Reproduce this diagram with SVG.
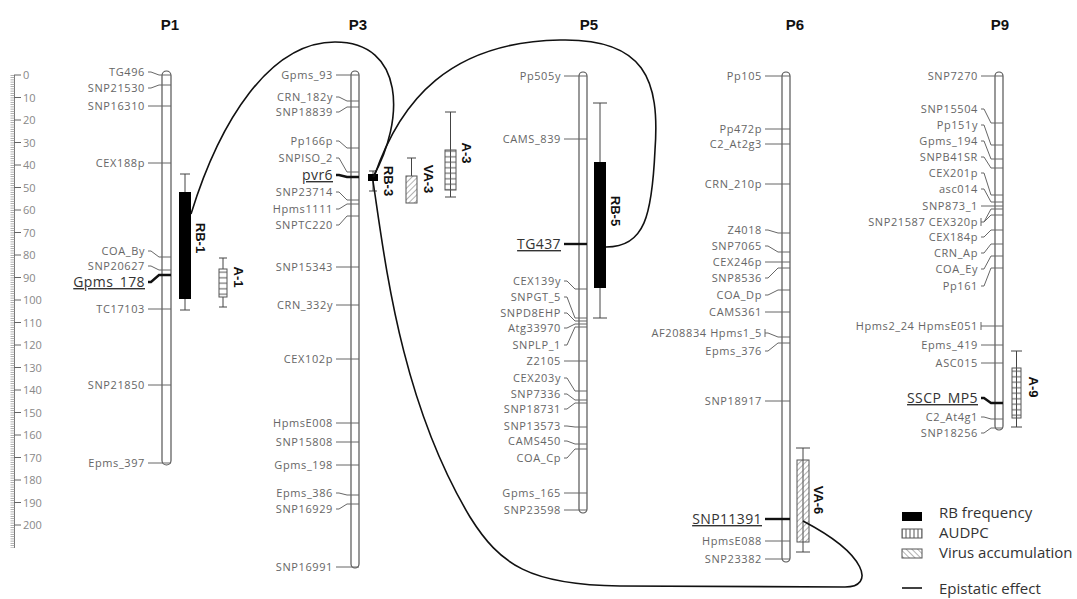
<svg xmlns="http://www.w3.org/2000/svg" width="1077" height="599" viewBox="0 0 1077 599">
<style>
.chr{fill:#fff;stroke:#555;stroke-width:1.2}
.tk{fill:none;stroke:#666;stroke-width:1}
.mk{font-family:'Open Sans',sans-serif;font-size:11px;fill:#666;letter-spacing:0.6px;text-anchor:end}
.key{font-family:'Open Sans',sans-serif;font-size:14px;fill:#333;text-decoration:underline;text-anchor:end;letter-spacing:0.4px}
.ktk{stroke:#111;stroke-width:2.4;fill:none}
.ttl{font-family:'Liberation Sans',Arial,sans-serif;font-weight:bold;font-size:15px;text-anchor:middle;fill:#111}
.ql{font-family:'Liberation Sans',Arial,sans-serif;font-weight:bold;font-size:13px;text-anchor:middle;dominant-baseline:central;fill:#111}
.wh{stroke:#444;stroke-width:1;fill:none}
.epi{stroke:#111;stroke-width:1.6;fill:none}
.rl{font-family:'Open Sans',sans-serif;font-size:11px;fill:#888}
.lg{font-family:'Open Sans',sans-serif;font-size:15px;fill:#333}
</style>
<defs>
<pattern id="hstr" width="10" height="5.5" patternUnits="userSpaceOnUse"><line x1="0" y1="2.75" x2="10" y2="2.75" stroke="#555" stroke-width="1"/></pattern>
<pattern id="vstr" width="4" height="10" patternUnits="userSpaceOnUse"><line x1="2" y1="0" x2="2" y2="10" stroke="#555" stroke-width="1"/></pattern>
<pattern id="hatch" width="4" height="4" patternUnits="userSpaceOnUse" patternTransform="rotate(45)"><line x1="0" y1="0" x2="0" y2="4" stroke="#666" stroke-width="1"/></pattern>
<pattern id="hatch2" width="4" height="4" patternUnits="userSpaceOnUse" patternTransform="rotate(-45)"><line x1="0" y1="0" x2="0" y2="4" stroke="#666" stroke-width="1"/></pattern>
</defs>
<rect width="1077" height="599" fill="#fff"/>

<g id="ruler">
<line x1="14.5" y1="75" x2="14.5" y2="548" stroke="#777" stroke-width="1"/>
<line x1="12.5" y1="75" x2="12.5" y2="548" stroke="#999" stroke-width="4" stroke-dasharray="0.8 1.45"/>
<path class="tk" stroke="#888" d="M14,75H21M14,97.5H21M14,120H21M14,142.5H21M14,165H21M14,187.5H21M14,210H21M14,232.5H21M14,255H21M14,277.5H21M14,300H21M14,322.5H21M14,345H21M14,367.5H21M14,390H21M14,412.5H21M14,435H21M14,457.5H21M14,480H21M14,502.5H21M14,525H21"/>
<text class="rl" x="23" y="79">0</text><text class="rl" x="23" y="101.5">10</text><text class="rl" x="23" y="124">20</text><text class="rl" x="23" y="146.5">30</text><text class="rl" x="23" y="169">40</text><text class="rl" x="23" y="191.5">50</text><text class="rl" x="23" y="214">60</text><text class="rl" x="23" y="236.5">70</text><text class="rl" x="23" y="259">80</text><text class="rl" x="23" y="281.5">90</text><text class="rl" x="23" y="304">100</text><text class="rl" x="23" y="326.5">110</text><text class="rl" x="23" y="349">120</text><text class="rl" x="23" y="371.5">130</text><text class="rl" x="23" y="394">140</text><text class="rl" x="23" y="416.5">150</text><text class="rl" x="23" y="439">160</text><text class="rl" x="23" y="461.5">170</text><text class="rl" x="23" y="484">180</text><text class="rl" x="23" y="506.5">190</text><text class="rl" x="23" y="529">200</text>
</g>

<g id="P1">
<text class="ttl" x="170" y="30">P1</text>
<rect class="chr" x="162" y="71" width="9" height="394" rx="4.5"/>
<path class="tk" d="M148,72H151L159,75H171M148,88H151L159,85H171M148,106H171M148,163H171M148,251H151L159,257H171M148,266H151L159,270H171M148,309H171M148,385H171M148,463H171"/>
<path class="ktk" d="M148,282H151L159,275H171"/>
<text class="mk" x="145" y="76">TG496</text>
<text class="mk" x="145" y="92">SNP21530</text>
<text class="mk" x="145" y="110">SNP16310</text>
<text class="mk" x="145" y="167">CEX188p</text>
<text class="mk" x="145" y="255">COA_By</text>
<text class="mk" x="145" y="270">SNP20627</text>
<text class="key" x="145" y="287">Gpms_178</text>
<text class="mk" x="145" y="313">TC17103</text>
<text class="mk" x="145" y="389">SNP21850</text>
<text class="mk" x="145" y="467">Epms_397</text>
<path class="wh" d="M185,174V310M180,174H190M180,310H190"/>
<rect x="179" y="192" width="12" height="107" fill="#000"/>
<text class="ql" transform="translate(200,238) rotate(90)">RB-1</text>
<path class="wh" d="M223,258V307M219,258H227M219,307H227"/>
<rect x="219" y="269" width="8" height="28" fill="#fff"/>
<rect x="219" y="269" width="8" height="28" fill="url(#hstr)" stroke="#555"/>
<text class="ql" transform="translate(238,277) rotate(90)">A-1</text>
</g>

<g id="P3">
<text class="ttl" x="358" y="30">P3</text>
<rect class="chr" x="351" y="71" width="8" height="497" rx="4"/>
<path class="tk" d="M336,75H359M336,97H339L347,101H359M336,112H339L347,107H359M336,141H339L347,148H359M336,158H339L347,172H359M336,192H339L347,200H359M336,209H339L347,204H359M336,225H339L347,216H359M336,267H359M336,305H359M336,359H359M336,423H359M336,442H359M336,465H359M336,493H339L347,495H359M336,509H339L347,504H359M336,567H359"/>
<path class="ktk" d="M336,175H339L347,177H359"/>
<text class="mk" x="333" y="79">Gpms_93</text>
<text class="mk" x="333" y="101">CRN_182y</text>
<text class="mk" x="333" y="116">SNP18839</text>
<text class="mk" x="333" y="145">Pp166p</text>
<text class="mk" x="333" y="162">SNPISO_2</text>
<text class="key" x="333" y="180">pvr6</text>
<text class="mk" x="333" y="196">SNP23714</text>
<text class="mk" x="333" y="213">Hpms1111</text>
<text class="mk" x="333" y="229">SNPTC220</text>
<text class="mk" x="333" y="271">SNP15343</text>
<text class="mk" x="333" y="309">CRN_332y</text>
<text class="mk" x="333" y="363">CEX102p</text>
<text class="mk" x="333" y="427">HpmsE008</text>
<text class="mk" x="333" y="446">SNP15808</text>
<text class="mk" x="333" y="469">Gpms_198</text>
<text class="mk" x="333" y="497">Epms_386</text>
<text class="mk" x="333" y="513">SNP16929</text>
<text class="mk" x="333" y="571">SNP16991</text>
<path class="wh" d="M373,171V191M369,171H377M369,191H377"/>
<rect x="368" y="174" width="10" height="7" fill="#000"/>
<text class="ql" transform="translate(388,181) rotate(90)">RB-3</text>
<path class="wh" d="M411.5,158V176M407,158H416"/>
<rect x="406" y="176" width="11" height="27" fill="url(#hatch)" stroke="#555"/>
<text class="ql" transform="translate(428,179) rotate(90)">VA-3</text>
<path class="wh" d="M450.5,112V197M445,112H456M445,197H456"/>
<rect x="445" y="150" width="11" height="40" fill="url(#hstr)" stroke="#555"/>
<text class="ql" transform="translate(466,153) rotate(90)">A-3</text>
</g>

<g id="P5">
<text class="ttl" x="589" y="30">P5</text>
<rect class="chr" x="579" y="72" width="8" height="441" rx="4"/>
<path class="tk" d="M564,76H587M564,139H587M564,281H567L575,289H587M564,297H567L575,318H587M564,313H567L575,321H587M564,328H567L575,324H587M564,345H567L575,327H587M564,361H587M564,378H567L575,391H587M564,394H567L575,400H587M564,409H567L575,403H587M564,426H567L575,427H587M564,441H567L575,444H587M564,458H567L575,449H587M564,493H587M564,510H587"/>
<path class="ktk" d="M564,244H587"/>
<text class="mk" x="561" y="80">Pp505y</text>
<text class="mk" x="561" y="143">CAMS_839</text>
<text class="key" x="561" y="249">TG437</text>
<text class="mk" x="561" y="285">CEX139y</text>
<text class="mk" x="561" y="301">SNPGT_5</text>
<text class="mk" x="561" y="317">SNPD8EHP</text>
<text class="mk" x="561" y="332">Atg33970</text>
<text class="mk" x="561" y="349">SNPLP_1</text>
<text class="mk" x="561" y="365">Z2105</text>
<text class="mk" x="561" y="382">CEX203y</text>
<text class="mk" x="561" y="398">SNP7336</text>
<text class="mk" x="561" y="413">SNP18731</text>
<text class="mk" x="561" y="430">SNP13573</text>
<text class="mk" x="561" y="445">CAMS450</text>
<text class="mk" x="561" y="462">COA_Cp</text>
<text class="mk" x="561" y="497">Gpms_165</text>
<text class="mk" x="561" y="514">SNP23598</text>
<path class="wh" d="M600,103V318M593,103H607M593,318H607"/>
<rect x="594" y="162" width="12" height="126" fill="#000"/>
<text class="ql" transform="translate(615,211) rotate(90)">RB-5</text>
</g>

<g id="P6">
<text class="ttl" x="795" y="30">P6</text>
<rect class="chr" x="782" y="72" width="8" height="490" rx="4"/>
<path class="tk" d="M765,76H790M765,129H790M765,144H790M765,184H790M765,230H768L778,233H790M765,246H768L778,252H790M765,262H790M765,278H768L778,268H790M765,295H768L778,290H790M765,312H790M765,329V337M765,333H768L778,337H790M765,351H768L778,343H790M765,401H790M765,541H790M765,559H790"/>
<path class="ktk" d="M765,519H790"/>
<text class="mk" x="762" y="80">Pp105</text>
<text class="mk" x="762" y="133">Pp472p</text>
<text class="mk" x="762" y="148">C2_At2g3</text>
<text class="mk" x="762" y="188">CRN_210p</text>
<text class="mk" x="762" y="234">Z4018</text>
<text class="mk" x="762" y="250">SNP7065</text>
<text class="mk" x="762" y="266">CEX246p</text>
<text class="mk" x="762" y="282">SNP8536</text>
<text class="mk" x="762" y="299">COA_Dp</text>
<text class="mk" x="762" y="316">CAMS361</text>
<text class="mk" x="762" y="337">AF208834 Hpms1_5</text>
<text class="mk" x="762" y="355">Epms_376</text>
<text class="mk" x="762" y="405">SNP18917</text>
<text class="key" x="762" y="524">SNP11391</text>
<text class="mk" x="762" y="545">HpmsE088</text>
<text class="mk" x="762" y="563">SNP23382</text>
<path class="wh" d="M803,448V552M796,448H810M796,552H810"/>
<rect x="797" y="460" width="12" height="82" fill="url(#hatch)" stroke="#555"/>
<text class="ql" transform="translate(818,500) rotate(90)">VA-6</text>
</g>

<g id="P9">
<text class="ttl" x="1000" y="30">P9</text>
<rect class="chr" x="995" y="72" width="8" height="358" rx="4"/>
<path class="tk" d="M981,76H1003M981,109H984L991,123H1003M981,125H984L991,145H1003M981,141H984L991,159H1003M981,157H984L991,168H1003M981,173H984L991,195H1003M981,189H984L991,202H1003M981,206H1003M981,218V226M981,222H984L991,209H1003M984,222L991,215H1003M981,237H984L991,230H1003M981,253H984L991,244H1003M981,269H984L991,256H1003M981,286H984L991,268H1003M981,322V330M981,326H1003M981,345H1003M981,363H1003M981,417H984L991,419H1003M981,433H984L991,428H1003"/>
<path class="ktk" d="M981,398H984L991,403H1003"/>
<text class="mk" x="978" y="80">SNP7270</text>
<text class="mk" x="978" y="113">SNP15504</text>
<text class="mk" x="978" y="129">Pp151y</text>
<text class="mk" x="978" y="145">Gpms_194</text>
<text class="mk" x="978" y="161">SNPB41SR</text>
<text class="mk" x="978" y="177">CEX201p</text>
<text class="mk" x="978" y="193">asc014</text>
<text class="mk" x="978" y="210">SNP873_1</text>
<text class="mk" x="978" y="226">SNP21587 CEX320p</text>
<text class="mk" x="978" y="241">CEX184p</text>
<text class="mk" x="978" y="257">CRN_Ap</text>
<text class="mk" x="978" y="273">COA_Ey</text>
<text class="mk" x="978" y="290">Pp161</text>
<text class="mk" x="978" y="330">Hpms2_24 HpmsE051</text>
<text class="mk" x="978" y="349">Epms_419</text>
<text class="mk" x="978" y="367">ASC015</text>
<text class="key" x="978" y="403">SSCP_MP5</text>
<text class="mk" x="978" y="421">C2_At4g1</text>
<text class="mk" x="978" y="437">SNP18256</text>
<path class="wh" d="M1016.5,351V427M1011,351H1022M1011,427H1022"/>
<rect x="1012" y="368" width="9" height="50" fill="url(#hstr)" stroke="#555"/>
<text class="ql" transform="translate(1033,387) rotate(90)">A-9</text>
</g>

<g id="connectors">
<path class="epi" d="M191,214C220,120 270,42 335,42C405,42 405,120 373,177"/>
<path class="epi" d="M374,177C400,100 450,42 560,40C645,38 660,80 655,150C652,215 645,247 606,247"/>
<path class="epi" d="M373,181C385,260 400,400 470,517C500,565 530,585 620,586L845,587C875,587 868,555 803,521"/>
</g>

<g id="legend">
<rect x="902" y="512" width="20" height="9" fill="#000"/>
<text class="lg" x="939" y="518">RB frequency</text>
<rect x="902" y="529" width="20" height="9" fill="url(#vstr)" stroke="#555"/>
<text class="lg" x="939" y="538">AUDPC</text>
<rect x="902" y="549" width="20" height="9" fill="url(#hatch2)" stroke="#555"/>
<text class="lg" x="939" y="558">Virus accumulation</text>
<line x1="902" y1="588" x2="922" y2="588" stroke="#111" stroke-width="1.6"/>
<text class="lg" x="939" y="594">Epistatic effect</text>
</g>
</svg>
